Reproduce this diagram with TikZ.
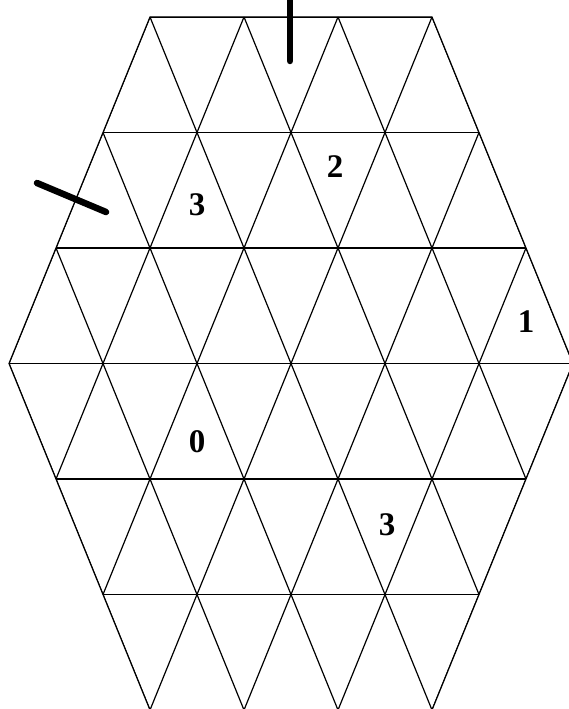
\documentclass[tikz,border=0pt]{standalone}
\usepackage{fontspec}
\setmainfont{Liberation Serif}

\begin{document}
\begin{tikzpicture}[x=1pt,y=-1pt,line cap=butt,line join=miter]

% Grid: 1 unit = half a triangle base across, one row down
\def\halfbase{47}
\def\rowh{115.5}

\tikzset{
  grid/.style={black,line width=1.2pt},
  bar/.style={black,line width=6.5pt,line cap=round},
  num/.style={font=\fontsize{33}{33}\selectfont\bfseries,inner sep=0pt}
}

\useasboundingbox (0,0) rectangle (569,709);

\begin{scope}[shift={(9,17)},x=\halfbase pt,y=-\rowh pt]

% hexagon corners (k = across, r = row)
\coordinate (TL) at (3,0);
\coordinate (TR) at (9,0);
\coordinate (R) at (12,3);
\coordinate (BR) at (9,6);
\coordinate (BL) at (3,6);
\coordinate (L) at (0,3);

% Lattice lines, clipped to the hexagon
\begin{scope}
\clip (TL) -- (TR) -- (R) -- (BR) -- (BL) -- (L) -- cycle;
\foreach \r in {0,...,6}
  \draw[grid] (0,\r) -- (12,\r);
\foreach \c in {-9,-7,...,11}
  \draw[grid] (\c,0) -- ++(6,6);
\foreach \c in {1,3,...,19}
  \draw[grid] (\c,0) -- ++(-6,6);
\end{scope}

% Hexagon outline
\draw[grid] (TL) -- (TR) -- (R) -- (BR) -- (BL) -- (L) -- cycle;

\end{scope}

% ---- MARKS ----
\coordinate (topA) at (290,-4);
\coordinate (topB) at (290,61);
\draw[bar] (topA) -- (topB);
\coordinate (leftA) at (37,183);
\coordinate (leftB) at (106,212);
\draw[bar] (leftA) -- (leftB);

% ---- NUMBERS ----
\node[num] (n3a) at (197,205) {3};
\node[num] (n2) at (335,167) {2};
\node[num] (n1) at (526,322) {1};
\node[num] (n0) at (197,442) {0};
\node[num] (n3b) at (387,525) {3};

\end{tikzpicture}
\end{document}
